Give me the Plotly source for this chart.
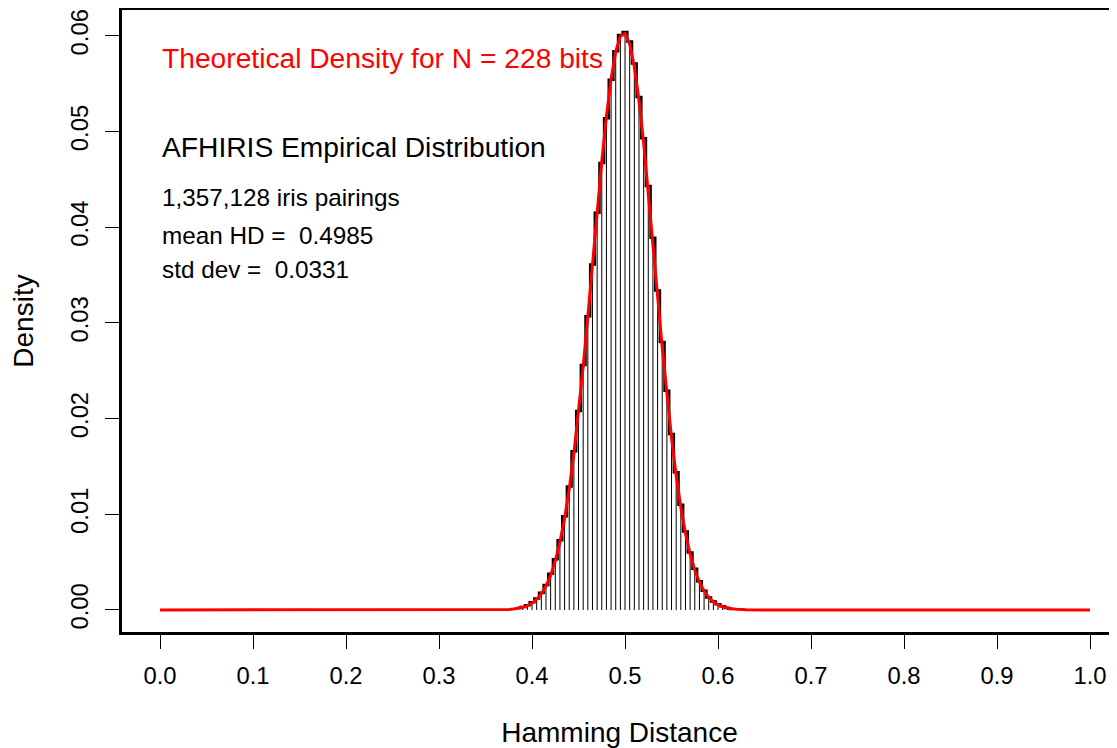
import plotly.graph_objects as go

# Empirical histogram (bin centres, density per 0.005 bin)
hd_bins = [0.385, 0.390, 0.395, 0.400, 0.405, 0.410, 0.415, 0.420, 0.425, 0.430,
           0.435, 0.440, 0.445, 0.450, 0.455, 0.460, 0.465, 0.470, 0.475, 0.480,
           0.485, 0.490, 0.495, 0.500, 0.505, 0.510, 0.515, 0.520, 0.525, 0.530,
           0.535, 0.540, 0.545, 0.550, 0.555, 0.560, 0.565, 0.570, 0.575, 0.580,
           0.585, 0.590, 0.595, 0.600, 0.605, 0.610, 0.615]
emp_density = [0.0002, 0.0003, 0.0005, 0.0008, 0.0012, 0.0018, 0.0026, 0.0038, 0.0053, 0.0073,
               0.0098, 0.0129, 0.0166, 0.0208, 0.0256, 0.0307, 0.0361, 0.0415, 0.0467, 0.0514,
               0.0554, 0.0584, 0.0601, 0.0604, 0.0594, 0.0571, 0.0536, 0.0493, 0.0443, 0.0389,
               0.0334, 0.0280, 0.0229, 0.0184, 0.0144, 0.0110, 0.0082, 0.0060, 0.0043, 0.0030,
               0.0020, 0.0013, 0.0009, 0.0006, 0.0004, 0.0002, 0.0001]

# Theoretical density curve (red)
theo_x = [0.0, 0.1, 0.2, 0.3, 0.35, 0.36, 0.37, 0.375, 0.38,
          0.385, 0.390, 0.395, 0.400, 0.405, 0.410, 0.415, 0.420, 0.425, 0.430,
          0.435, 0.440, 0.445, 0.450, 0.455, 0.460, 0.465, 0.470, 0.475, 0.480,
          0.485, 0.490, 0.495, 0.500, 0.505, 0.510, 0.515, 0.520, 0.525, 0.530,
          0.535, 0.540, 0.545, 0.550, 0.555, 0.560, 0.565, 0.570, 0.575, 0.580,
          0.585, 0.590, 0.595, 0.600, 0.605, 0.610, 0.615, 0.62, 0.63, 0.65,
          0.7, 0.8, 0.9, 1.0]
theo_y = [0.0, 0.0, 0.0, 0.0, 0.0, 0.00001, 0.00003, 0.00006, 0.0001,
          0.00017, 0.00028, 0.00045, 0.00072, 0.00112, 0.00169, 0.0025, 0.00362, 0.00513, 0.00709,
          0.00957, 0.01265, 0.01634, 0.02061, 0.02543, 0.03066, 0.03613, 0.04163, 0.04687, 0.05158,
          0.05549, 0.05835, 0.05996, 0.06024, 0.05915, 0.05677, 0.05326, 0.04883, 0.04377, 0.03834,
          0.03283, 0.02748, 0.02248, 0.01798, 0.01405, 0.01073, 0.00801, 0.00585, 0.00417, 0.00291,
          0.00198, 0.00132, 0.00086, 0.00055, 0.00034, 0.00021, 0.00012, 0.00007, 0.00002, 0.0,
          0.0, 0.0, 0.0, 0.0]

x_ticks = [0.0, 0.1, 0.2, 0.3, 0.4, 0.5, 0.6, 0.7, 0.8, 0.9, 1.0]
x_labels = ["0.0", "0.1", "0.2", "0.3", "0.4", "0.5", "0.6", "0.7", "0.8", "0.9", "1.0"]
y_ticks = [0.00, 0.01, 0.02, 0.03, 0.04, 0.05, 0.06]
y_labels = ["0.00", "0.01", "0.02", "0.03", "0.04", "0.05", "0.06"]

FONT = "Liberation Sans, Arial, Helvetica, sans-serif"

# vertical lines from the histogram values
vx, vy = [], []
for x, y in zip(hd_bins, emp_density):
    vx += [x, x, None]
    vy += [0, y, None]

fig = go.Figure()
fig.add_trace(go.Scatter(x=vx, y=vy, mode="lines",
                         line=dict(color="black", width=1), hoverinfo="skip"))
fig.add_trace(go.Scatter(x=hd_bins, y=emp_density, mode="lines",
                         line=dict(color="black", width=2.5, shape="hvh")))
fig.add_trace(go.Scatter(x=theo_x, y=theo_y, mode="lines",
                         line=dict(color="red", width=3)))

ann_style = dict(xref="x", yref="y", xanchor="left", yanchor="middle",
                 showarrow=False)
fig.add_annotation(x=0.0, y=0.0577, text="Theoretical Density for N = 228 bits",
                   font=dict(family=FONT, size=28.2, color="red"), **ann_style)
fig.add_annotation(x=0.0, y=0.0484, text="AFHIRIS Empirical Distribution",
                   font=dict(family=FONT, size=28.2, color="black"), **ann_style)
fig.add_annotation(x=0.0, y=0.0431, text="1,357,128 iris pairings",
                   font=dict(family=FONT, size=24.3, color="black"), **ann_style)
fig.add_annotation(x=0.0, y=0.0391, text="mean HD =  0.4985",
                   font=dict(family=FONT, size=24.3, color="black"), **ann_style)
fig.add_annotation(x=0.0, y=0.0356, text="std dev =  0.0331",
                   font=dict(family=FONT, size=24.3, color="black"), **ann_style)

# page body has an 8px margin: figure is 8px smaller and margins shifted
fig.update_layout(
    width=1109, height=740,
    margin=dict(l=114, r=0, t=2, b=116, autoexpand=False),
    paper_bgcolor="white", plot_bgcolor="white",
    showlegend=False,
    font=dict(family=FONT, size=23.8, color="black"),
    xaxis=dict(range=[-0.0409, 1.029], tickvals=x_ticks, ticktext=x_labels,
               showgrid=False, zeroline=False, showline=True, mirror=True,
               linecolor="black", linewidth=2.5,
               ticks="outside", ticklen=14, tickwidth=1, tickcolor="black",
               ticklabelstandoff=7,
               title=dict(text="Hamming Distance", font=dict(size=28), standoff=37)),
    yaxis=dict(range=[-0.0023, 0.0627], tickvals=y_ticks, ticktext=y_labels,
               showgrid=False, zeroline=False, showline=True, mirror=False,
               linecolor="black", linewidth=2.5,
               ticks="outside", ticklen=14, tickwidth=1, tickcolor="black",
               tickangle=-90, ticklabelstandoff=8,
               title=dict(text="Density", font=dict(size=28), standoff=28)),
)

fig.write_html("out.html")
